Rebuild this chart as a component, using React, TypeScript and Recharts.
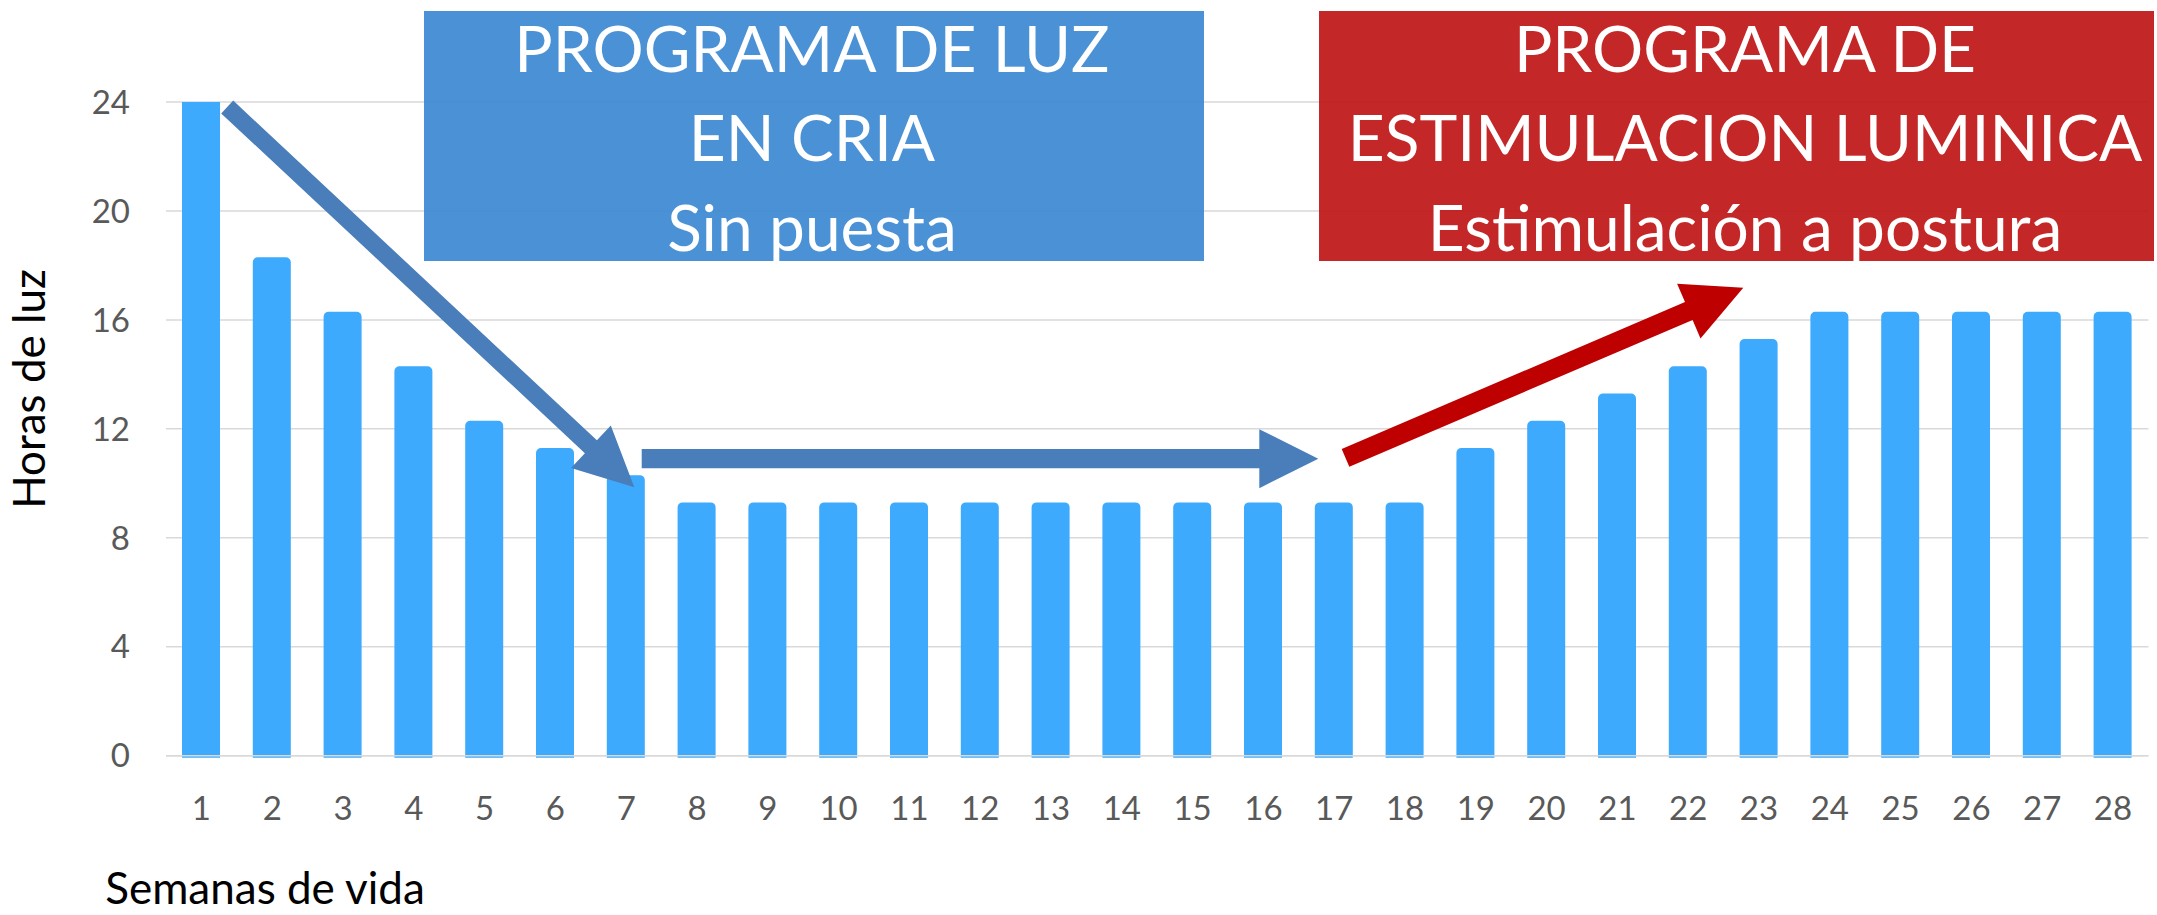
import React from 'react';
import { BarChart, Bar, XAxis, YAxis, CartesianGrid, ReferenceLine, Rectangle } from 'recharts';

// ---- data ----
const weeks = ['1','2','3','4','5','6','7','8','9','10','11','12','13','14','15','16','17','18','19','20','21','22','23','24','25','26','27','28'];
const hours = [24, 18.3, 16.3, 14.3, 12.3, 11.3, 10.3, 9.3, 9.3, 9.3, 9.3, 9.3, 9.3, 9.3, 9.3, 9.3, 9.3, 9.3, 11.3, 12.3, 13.3, 14.3, 15.3, 16.3, 16.3, 16.3, 16.3, 16.3];
const yTicks = [0, 4, 8, 12, 16, 20, 24];
const yAxisTitle = 'Horas de luz';
const xAxisTitle = 'Semanas de vida';
const criaLines = ['PROGRAMA DE LUZ', 'EN CRIA', 'Sin puesta'];
const estimLines = ['PROGRAMA DE', 'ESTIMULACION LUMINICA', 'Estimulación a postura'];

const data = weeks.map((w, i) => ({ week: w, hours: hours[i] }));

// ---- styles ----
const W = 2157;
const H = 915;
const FONT = 'Lato, "Open Sans", sans-serif';
const BAR_COLOR = '#3DAAFE';
const GRID = '#D9D9D9';
const TICK = '#595959';

type Pt = [number, number];
function arrowPoints(tail: Pt, tip: Pt, shaft: number, headW: number, headL: number) {
  const dx = tip[0] - tail[0];
  const dy = tip[1] - tail[1];
  const len = Math.hypot(dx, dy);
  const ux = dx / len, uy = dy / len;
  const nx = -uy, ny = ux;
  const bx = tip[0] - ux * headL, by = tip[1] - uy * headL;
  const pts: Pt[] = [
    [tail[0] + nx * shaft / 2, tail[1] + ny * shaft / 2],
    [bx + nx * shaft / 2, by + ny * shaft / 2],
    [bx + nx * headW / 2, by + ny * headW / 2],
    tip,
    [bx - nx * headW / 2, by - ny * headW / 2],
    [bx - nx * shaft / 2, by - ny * shaft / 2],
    [tail[0] - nx * shaft / 2, tail[1] - ny * shaft / 2],
  ];
  return pts.map((p) => p[0].toFixed(1) + ',' + p[1].toFixed(1)).join(' ');
}

const BarShape = (props: any) => {
  const { x, y, width, height, fill } = props;
  const first = props.index === 0 || (props.payload && props.payload.week === '1');
  return (
    <Rectangle
      x={x}
      y={y}
      width={width}
      height={height + 2}
      fill={fill}
      radius={first ? 0 : [5, 5, 0, 0]}
    />
  );
};

export default function App() {
  return (
    <div style={{ position: 'absolute', left: 0, top: 0, width: W, height: H, background: '#fff', fontFamily: FONT }}>
      <BarChart
        width={W}
        height={H}
        data={data}
        margin={{ top: 102, right: 8.6, left: 86, bottom: 99.3 }}
      >
        <CartesianGrid vertical={false} stroke={GRID} strokeWidth={1.5} />
        <XAxis
          dataKey="week"
          height={60}
          interval={0}
          axisLine={false}
          tickLine={false}
          tickSize={0}
          tickMargin={41}
          tick={{ fill: TICK, fontSize: 33, fontFamily: FONT }}
        />
        <YAxis
          domain={[0, 24]}
          ticks={yTicks}
          width={80}
          axisLine={false}
          tickLine={false}
          tickSize={0}
          tickMargin={36}
          tick={{ fill: TICK, fontSize: 33, fontFamily: FONT }}
        />
        <Bar dataKey="hours" fill={BAR_COLOR} barSize={38} isAnimationActive={false} shape={BarShape} />
        <ReferenceLine y={0} stroke={GRID} strokeWidth={1.5} />
      </BarChart>
      <svg width={W} height={H} style={{ position: 'absolute', left: 0, top: 0, pointerEvents: 'none' }}>
        {/* boxes */}
        <rect x={424} y={11} width={780} height={250} fill="rgb(60,137,210)" fillOpacity={0.93} />
        <rect x={1319} y={11} width={835} height={250} fill="rgb(192,23,23)" fillOpacity={0.93} />
        {criaLines.map((t, i) => (
          <text key={'c' + i} x={812} y={71.7 + i * 89.5} textAnchor="middle" fill="#fff" fontSize={64} fontFamily={FONT}>{t}</text>
        ))}
        {estimLines.map((t, i) => (
          <text key={'e' + i} x={1745} y={71.7 + i * 89.5} textAnchor="middle" fill="#fff" fontSize={64} fontFamily={FONT}>{t}</text>
        ))}
        {/* arrows */}
        <polygon points={arrowPoints([227.2, 107], [634.3, 487.3], 17.6, 58.4, 59.4)} fill="#4A7EBB" />
        <polygon points={arrowPoints([641.7, 458.7], [1318.3, 458.7], 19.3, 59, 59)} fill="#4A7EBB" />
        <polygon points={arrowPoints([1345.5, 457.8], [1743.3, 287.7], 19.3, 59.5, 59.3)} fill="#BF0000" />
        {/* axis titles */}
        <text x={45} y={389} transform="rotate(-90 45 389)" textAnchor="middle" fill="#000" fontSize={44} fontFamily={FONT}>{yAxisTitle}</text>
        <text x={265} y={904} textAnchor="middle" fill="#000" fontSize={44} fontFamily={FONT}>{xAxisTitle}</text>
      </svg>
    </div>
  );
}
